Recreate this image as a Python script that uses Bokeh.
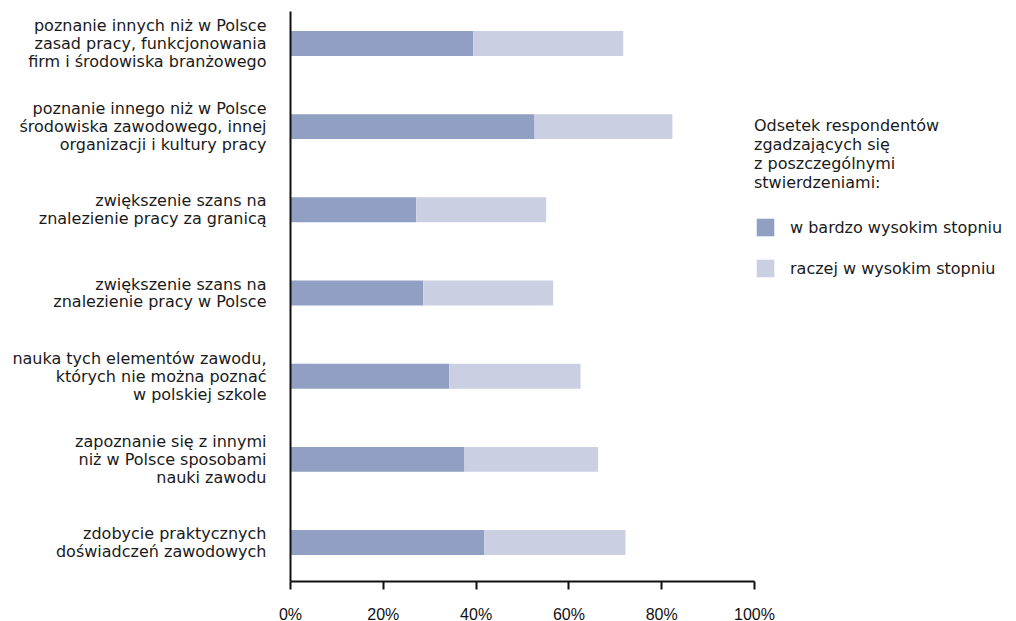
from bokeh.plotting import figure
from bokeh.models import ColumnDataSource, Range1d, FixedTicker, Legend, LegendItem
from bokeh.embed import file_html
from bokeh.resources import INLINE

categories = [
    "poznanie innych niż w Polsce\nzasad pracy, funkcjonowania\nfirm i środowiska branżowego",
    "poznanie innego niż w Polsce\nśrodowiska zawodowego, innej\norganizacji i kultury pracy",
    "zwiększenie szans na\nznalezienie pracy za granicą",
    "zwiększenie szans na\nznalezienie pracy w Polsce",
    "nauka tych elementów zawodu,\nktórych nie można poznać\nw polskiej szkole",
    "zapoznanie się z innymi\nniż w Polsce sposobami\nnauki zawodu",
    "zdobycie praktycznych\ndoświadczeń zawodowych",
]
very_high = [39.4, 52.6, 27.1, 28.6, 34.2, 37.5, 41.8]
rather_high = [32.3, 29.7, 28.0, 28.0, 28.3, 28.8, 30.4]
series_names = ["w bardzo wysokim stopniu", "raczej w wysokim stopniu"]
x_ticks = [0, 20, 40, 60, 80, 100]
legend_title = "Odsetek respondentów\nzgadzających się\nz poszczególnymi\nstwierdzeniami:"

FONT = "DejaVu Sans"
colors = ["#91a0c2", "#cacfe2"]
n = len(categories)
ypos = [n - 1 - i for i in range(n)]

source = ColumnDataSource(dict(y=ypos, very_high=very_high, rather_high=rather_high))

p = figure(frame_width=464, frame_height=570, output_backend="svg", toolbar_location=None,
           x_range=Range1d(0, 100), y_range=Range1d(-0.468, n - 1 + 0.384),
           min_border_left=290, min_border_right=0, min_border_top=11, min_border_bottom=40)
p.outline_line_color = None
p.grid.visible = False
p.background_fill_color = "white"
p.border_fill_color = "white"

renderers = p.hbar_stack(["very_high", "rather_high"], y="y", height=0.3, color=colors,
                         line_color=None, source=source)

# x axis
p.xaxis.ticker = FixedTicker(ticks=x_ticks)
p.xaxis.major_label_overrides = {t: f"{t}%" for t in x_ticks}
p.xaxis.axis_line_width = 2
p.xaxis.axis_line_color = "#111111"
p.xaxis.major_tick_line_width = 2
p.xaxis.major_tick_line_color = "#111111"
p.xaxis.major_tick_in = 0
p.xaxis.major_tick_out = 8
p.xaxis.minor_tick_line_color = None
p.xaxis.major_label_text_font = "Liberation Sans"
p.xaxis.major_label_text_font_size = "16px"
p.xaxis.major_label_text_color = "#111111"
p.xaxis.major_label_standoff = 16

# y axis
p.yaxis.ticker = FixedTicker(ticks=ypos)
p.yaxis.major_label_overrides = {ypos[i]: categories[i] for i in range(n)}
p.yaxis.axis_line_width = 2
p.yaxis.axis_line_color = "#111111"
p.yaxis.major_tick_line_color = None
p.yaxis.minor_tick_line_color = None
p.yaxis.major_label_text_font = FONT
p.yaxis.major_label_text_font_size = "16px"
p.yaxis.major_label_text_color = "#1a1a1a"
p.yaxis.major_label_text_line_height = 0.94
p.yaxis.major_label_standoff = 18

legend = Legend(items=[LegendItem(label=series_names[i], renderers=[renderers[i]]) for i in range(2)],
                location=(0, 302), padding=0, margin=0, border_line_color=None,
                background_fill_alpha=0, glyph_width=22, glyph_height=22, label_height=22,
                spacing=19, label_standoff=14, label_text_font=FONT,
                label_text_font_size="16px", label_text_color="#1a1a1a",
                title=legend_title, title_text_font=FONT, title_text_font_size="16px",
                title_text_font_style="normal", title_text_color="#1a1a1a",
                title_text_line_height=0.95, title_standoff=24)
p.add_layout(legend, "right")

open("out.html", "w").write(file_html(p, INLINE))
